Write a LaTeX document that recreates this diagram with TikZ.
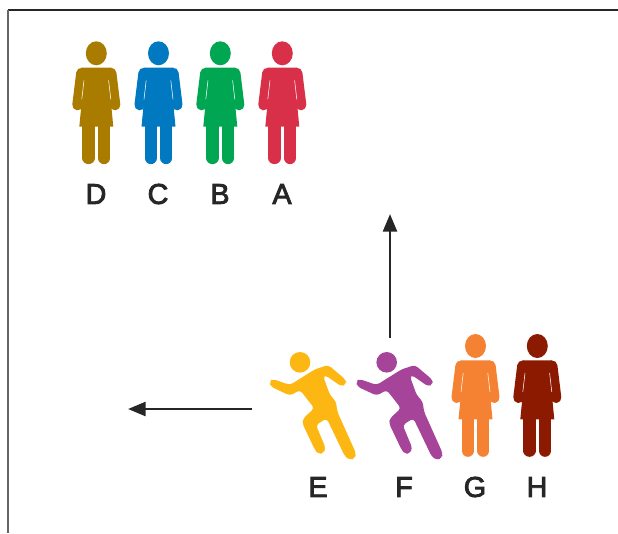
\documentclass[tikz,border=0pt]{standalone}
\usepackage{fontspec}
\setmainfont{Liberation Sans}
\newfontfamily\letterfont[FakeBold=3]{Liberation Sans}
\usetikzlibrary{arrows.meta}

\tikzset{
    letter/.style={font=\letterfont\fontsize{21.5}{24}\selectfont, text=black!85, inner sep=0pt},
    move/.style={line width=2.1pt, black!85, -{Triangle[length=13.3pt,width=10.5pt]}},
    % standing figure, origin at the centre of the head
    woman/.pic={
        \fill[pic actions] (0,0) ellipse (10.5 and 12);
        \fill[pic actions] (-15,14.4) -- (15,14.4) -- (12.5,27) -- (17,73.4)
            -- (-17,73.4) -- (-12.5,27) -- cycle;
        \draw[pic actions, line width=8pt, line cap=round] (14.8,19.8) -- (18.7,51.7);
        \draw[pic actions, line width=8pt, line cap=round] (-14.8,19.8) -- (-18.7,51.7);
        \draw[pic actions, line width=9.2pt, line cap=round] (7.8,70) -- (7.8,104.7);
        \draw[pic actions, line width=9.2pt, line cap=round] (-7.8,70) -- (-7.8,104.7);
        \draw[white, line width=.4pt] (12.3,27) -- (14.5,46);
        \draw[white, line width=.4pt] (-12.3,27) -- (-14.5,46);
    },
    % running figure, origin at the centre of the head
    runner/.pic={
        \fill[pic actions] (0,0) circle (10.3);
        \fill[pic actions, rounded corners=2.5pt] (-27.3,16.7) -- (-10,22.7) -- (1.7,15.3)
            -- (15,7) -- (28.3,2.7) -- (46,17.7) -- (46,21.7) -- (41.7,24.3) -- (25,12.7)
            -- (23.3,14.3) -- (30,32.7) -- (36,39.3) -- (37.3,49.3) -- (56,91) -- (55,96)
            -- (50,97.7) -- (45,94.3) -- (26.7,56) -- (16,62.7) -- (25.7,86) -- (23.3,91)
            -- (18.3,91.7) -- (15,87.7) -- (2.3,61) -- (3.3,56) -- (14.3,46) -- (0,27.7)
            -- (-10,33.3) -- (-29.3,24.3) -- (-30.7,19.3) -- cycle;
    }
}

\begin{document}
\begin{tikzpicture}[x=.75pt, y=-.75pt]
    \useasboundingbox (0,0) rectangle (618,533);

    % frame
    \draw[black!85, line width=.8pt] (8,10) -- (618,10);
    \draw[black!60, line width=.8pt] (8,10) -- (8,533);

    % colours of the figures
    \definecolor{colA}{HTML}{D9304A}
    \definecolor{colB}{HTML}{00A651}
    \definecolor{colC}{HTML}{0079C1}
    \definecolor{colD}{HTML}{A97C00}
    \definecolor{colE}{HTML}{FDB713}
    \definecolor{colF}{HTML}{A6449A}
    \definecolor{colG}{HTML}{F58233}
    \definecolor{colH}{HTML}{8B1A00}

    % upper row
    \pic[color=colD] at (96.3,53.3) {woman};
    \pic[color=colC] at (158.5,53.3) {woman};
    \pic[color=colB] at (220.3,53.3) {woman};
    \pic[color=colA] at (282.3,53.3) {woman};
    \node[letter] (labelD) at (96,194) {D};
    \node[letter] (labelC) at (158,194) {C};
    \node[letter] (labelB) at (220,194) {B};
    \node[letter] (labelA) at (282,194) {A};

    % lower row
    \pic[color=colE] at (300,362.3) {runner};
    \pic[color=colF] at (386.7,362.3) {runner};
    \pic[color=colG] at (475.5,346) {woman};
    \pic[color=colH] at (537.3,346) {woman};
    \node[letter] (labelE) at (318,487) {E};
    \node[letter] (labelF) at (404,487) {F};
    \node[letter] (labelG) at (475,487) {G};
    \node[letter] (labelH) at (537,487) {H};

    % moves
    \coordinate (upStart) at (390,338);
    \coordinate (upEnd) at (390,214);
    \coordinate (leftStart) at (252,409);
    \coordinate (leftEnd) at (128,409);
    \draw[move] (upStart) -- (upEnd);
    \draw[move] (leftStart) -- (leftEnd);
\end{tikzpicture}
\end{document}
